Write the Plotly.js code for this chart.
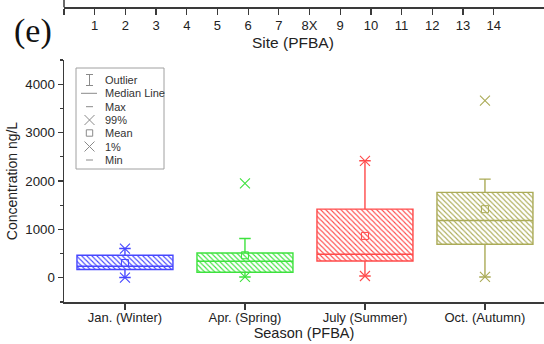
<!DOCTYPE html>
<html>
<head>
<meta charset="utf-8">
<script src="https://cdn.plot.ly/plotly-3.0.1.min.js"></script>
<style>html,body{margin:0;padding:0;background:#fff;}#chart{width:544px;height:344px;}</style>
</head>
<body>
<div id="chart"></div>
<script>
// ---- data ----
const seasons = ['Jan. (Winter)', 'Apr. (Spring)', 'July (Summer)', 'Oct. (Autumn)'];
const q1 = [170, 114, 348, 694];
const median = [238, 342, 487, 1184];
const q3 = [466, 513, 1418, 1764];
const meanVal = [306, 466, 865, 1418];
const maxVal = [605, 812, 2418, 2039];
const minVal = [5, 17, 37, 17];
const p99 = [605, 1950, 2418, 3660];
const p1 = [5, 17, 37, 17];
const seasonColors = ['#4646ff', '#3ee23e', '#ff4a4a', '#abab57'];
const siteTicks = [0, 1, 2, 3, 4, 5, 6, 7, 8, 9, 10, 11, 12, 13, 14];
const siteLabels = ['', '1', '2', '3', '4', '5', '6', '7', '8X', '9', '10', '11', '12', '13', '14'];
const legendLabels = ['Outlier', 'Median Line', 'Max', '99%', 'Mean', '1%', 'Min'];

// ---- layout helpers (pixel -> paper) ----
const L = 64, W = 480, H = 302;
const PX = px => (px - L) / W;
const PY = py => (H - py) / H;
const FONT = 'Liberation Sans, Arial, sans-serif';
const AX = '#3a3a3a';

const traces = [];
seasons.forEach((s, i) => {
  traces.push({
    type: 'bar', x: [s], base: [q1[i]], y: [q3[i] - q1[i]], width: 0.8,
    marker: {color: seasonColors[i], line: {width: 0},
      pattern: {shape: '\\', size: 3.6, solidity: 0.3, fillmode: 'replace'}},
    showlegend: false, hoverinfo: 'skip'
  });
});
seasons.forEach((s, i) => {
  traces.push({
    type: 'box', x: [s], q1: [q1[i]], median: [median[i]], q3: [q3[i]],
    lowerfence: [minVal[i]], upperfence: [maxVal[i]],
    boxpoints: false, width: 0.8, whiskerwidth: 0.12,
    fillcolor: 'rgba(0,0,0,0)', line: {color: seasonColors[i], width: 1.4},
    showlegend: false, hoverinfo: 'skip'
  });
});
traces.push({
  type: 'scatter', mode: 'markers', x: seasons, y: meanVal,
  marker: {symbol: 'square-open', size: 7, color: seasonColors, line: {width: 1, color: seasonColors}},
  showlegend: false, hoverinfo: 'skip'
});
[p99, p1].forEach(arr => traces.push({
  type: 'scatter', mode: 'markers', x: seasons, y: arr, cliponaxis: false,
  marker: {symbol: 'x-thin-open', size: 10, color: seasonColors, line: {width: 1.1, color: seasonColors}},
  showlegend: false, hoverinfo: 'skip'
}));
traces.push({type: 'scatter', x: [null], y: [null], xaxis: 'x2', yaxis: 'y', showlegend: false, hoverinfo: 'skip'});

// ---- custom legend (decoration) ----
const G = '#8a8a8a';
const rows = [80, 93.3, 106.7, 120, 133, 146.5, 160];
const cx = 89.5;
const ln = (x0, y0, x1, y1, c, w) => ({type: 'line', xref: 'paper', yref: 'paper',
  x0: PX(x0), y0: PY(y0), x1: PX(x1), y1: PY(y1), line: {color: c || G, width: w || 1}});
const shapes = [
  {type: 'rect', xref: 'paper', yref: 'paper', x0: PX(76), x1: PX(164), y0: PY(169), y1: PY(68),
   line: {color: '#a0a0a0', width: 1}},
  ln(cx, rows[0] - 5.5, cx, rows[0] + 5.5), ln(cx - 3.5, rows[0] - 5.5, cx + 3.5, rows[0] - 5.5),
  ln(cx - 3.5, rows[0] + 5.5, cx + 3.5, rows[0] + 5.5),
  ln(cx - 8.5, rows[1], cx + 7.5, rows[1]),
  ln(cx - 3.5, rows[2], cx + 3.5, rows[2]),
  ln(cx - 5, rows[3] - 5, cx + 5, rows[3] + 5), ln(cx - 5, rows[3] + 5, cx + 5, rows[3] - 5),
  {type: 'rect', xref: 'paper', yref: 'paper', x0: PX(cx - 3.2), x1: PX(cx + 3.2), y0: PY(rows[4] + 3.2), y1: PY(rows[4] - 3.2), line: {color: G, width: 1}},
  ln(cx - 5, rows[5] - 5, cx + 5, rows[5] + 5), ln(cx - 5, rows[5] + 5, cx + 5, rows[5] - 5),
  ln(cx - 3.5, rows[6], cx + 3.5, rows[6]),
  ln(64, 0, 64, 7.3, AX, 1.5)
];
const annotations = legendLabels.map((t, i) => ({
  text: t, xref: 'paper', yref: 'paper', x: PX(103), y: PY(rows[i]), xanchor: 'left', yanchor: 'middle',
  showarrow: false, font: {family: FONT, size: 11, color: '#333'}
}));
annotations.push({text: '(e)', xref: 'paper', yref: 'paper', x: PX(33), y: PY(31), xanchor: 'center', yanchor: 'middle',
  showarrow: false, font: {family: 'Liberation Serif, Times New Roman, serif', size: 34, color: '#111'}});
annotations.push({text: 'Site (PFBA)', xref: 'paper', yref: 'paper', x: PX(293), y: PY(43), xanchor: 'center', yanchor: 'middle',
  showarrow: false, font: {family: FONT, size: 15.5, color: '#222'}});

const layout = {
  width: 544, height: 344,
  margin: {l: L, r: 0, t: 0, b: 344 - H, pad: 0},
  paper_bgcolor: '#fff', plot_bgcolor: 'rgba(0,0,0,0)',
  barmode: 'overlay', boxmode: 'overlay', showlegend: false,
  font: {family: FONT, color: '#222'},
  xaxis: {type: 'category', range: [-0.508, 3.492], domain: [0, 1], anchor: 'y',
    showline: true, linecolor: AX, linewidth: 1.5, ticks: 'outside', ticklen: 6, tickwidth: 1.2, tickcolor: AX,
    ticklabelstandoff: -3,
    showgrid: false, zeroline: false, tickfont: {family: FONT, size: 13, color: '#222'},
    title: {text: 'Season (PFBA)', font: {family: FONT, size: 14.5, color: '#222'}, standoff: 3}, automargin: false},
  yaxis: {range: [-500, 4500], domain: [0, (H - 60) / H], tick0: 0, dtick: 1000,
    showline: true, linecolor: AX, linewidth: 1.5, ticks: 'outside', ticklen: 5, tickwidth: 1.2, tickcolor: AX,
    minor: {dtick: 500, ticks: 'outside', ticklen: 3, tickwidth: 1.2, tickcolor: AX},
    showgrid: false, zeroline: false, tickfont: {family: FONT, size: 13.3, color: '#222'},
    title: {text: 'Concentration ng/L', font: {family: FONT, size: 14, color: '#222'}, standoff: 4}, automargin: false},
  xaxis2: {overlaying: 'x', anchor: 'free', position: PY(7.3), side: 'bottom', range: [0, 15.64], domain: [0, 1],
    tickmode: 'array', tickvals: siteTicks, ticktext: siteLabels,
    showline: true, linecolor: AX, linewidth: 1.5, ticks: 'outside', ticklen: 6, tickwidth: 1.2, tickcolor: AX,
    showgrid: false, zeroline: false, tickfont: {family: FONT, size: 13, color: '#222'}, automargin: false},
  shapes: shapes, annotations: annotations
};
Plotly.newPlot('chart', traces, layout, {displayModeBar: false, staticPlot: true});
</script>
</body>
</html>
